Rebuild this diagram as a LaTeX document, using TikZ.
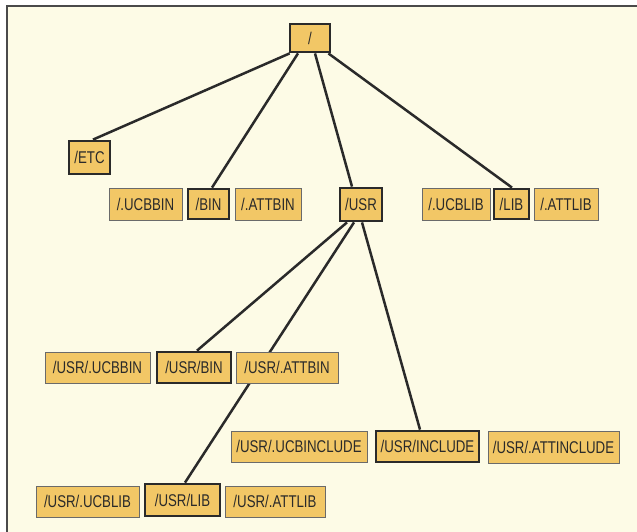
\documentclass[tikz,border=0pt]{standalone}
\usepackage{fontspec}
\setmainfont{Liberation Sans}[FakeStretch=0.78]
\definecolor{paper}{HTML}{FDFBE6}
\definecolor{boxfill}{HTML}{F2C766}
\definecolor{ink}{HTML}{2A2A2A}
\begin{document}
\begin{tikzpicture}[x=1pt,y=-1pt,
  dirbox/.style={draw=ink!70, line width=0.9pt, fill=boxfill, inner sep=0pt,
    font=\fontsize{17}{18}\selectfont, text=ink},
  mainbox/.style={dirbox, draw=ink, line width=2.8pt},
  link/.style={draw=ink, line width=2.5pt}]
\useasboundingbox (0,0) rectangle (637,531);
\fill[white] (0,0) rectangle (637,531);
\fill[paper] (7,6) rectangle (640,535);
\draw[ink!85, line width=1.6pt] (7,535) -- (7,6) -- (640,6);
% helper: node from corners
\newcommand{\dirnode}[7]{%
  \node[#1, minimum width={#5-#3}, minimum height={#6-#4}] (#2) at ({(#3+#5)/2},{(#4+#6)/2}) {#7};}
% nodes
\dirnode{mainbox}{root}{290}{24}{330}{52}{/}
\dirnode{mainbox}{etc}{69}{141}{110}{174}{/ETC}
\dirnode{dirbox}{ucbbin}{109}{188}{182}{220}{/.UCBBIN}
\dirnode{mainbox}{bin}{188}{189}{229}{219}{/BIN}
\dirnode{dirbox}{attbin}{235}{188}{301}{220}{/.ATTBIN}
\dirnode{mainbox}{usr}{340}{188}{382}{221}{/USR}
\dirnode{dirbox}{ucblib}{422}{188}{490}{220}{/.UCBLIB}
\dirnode{mainbox}{lib}{494}{189}{529}{219}{/LIB}
\dirnode{dirbox}{attlib}{534}{188}{598}{220}{/.ATTLIB}
\dirnode{dirbox}{usrucbbin}{45}{352}{150}{383}{/USR/.UCBBIN}
\dirnode{mainbox}{usrbin}{157}{352}{231}{383}{/USR/BIN}
% line from /USR to /USR/LIB passes behind /USR/.ATTBIN
\dirnode{mainbox}{usrlib}{145}{484}{220}{516}{/USR/LIB}
\draw[link] ([xshift=-7pt]usr.south) -- ([xshift=2.5pt]usrlib.north);
\dirnode{dirbox}{usrattbin}{236}{352}{338}{383}{/USR/.ATTBIN}
\dirnode{dirbox}{usrucbinc}{231}{431}{367}{462}{/USR/.UCBINCLUDE}
\dirnode{mainbox}{usrinc}{376}{431}{479}{462}{/USR/INCLUDE}
\dirnode{dirbox}{usrattinc}{488}{431}{619}{463}{/USR/.ATTINCLUDE}
\dirnode{dirbox}{usrucblib}{36}{486}{139}{517}{/USR/.UCBLIB}
\dirnode{dirbox}{usrattlib}{225}{486}{325}{517}{/USR/.ATTLIB}
% connectors
\draw[link] ([xshift=1pt]root.south west) -- ([xshift=3.5pt]etc.north);
\draw[link] ([xshift=-12pt]root.south) -- ([xshift=3.5pt]bin.north);
\draw[link] ([xshift=5pt]root.south) -- ([xshift=-9pt]usr.north);
\draw[link] ([xshift=-3pt]root.south east) -- ([xshift=0.5pt]lib.north);
\draw[link] ([xshift=-14pt]usr.south) -- ([xshift=3pt]usrbin.north);
\draw[link] ([xshift=1pt]usr.south) -- ([xshift=-7.5pt]usrinc.north);
\end{tikzpicture}
\end{document}
